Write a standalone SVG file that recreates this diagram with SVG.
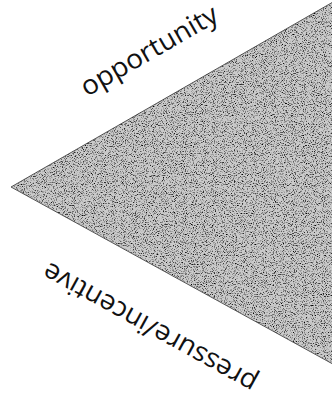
<svg xmlns="http://www.w3.org/2000/svg" width="332" height="401" viewBox="0 0 332 401">
  <style>
    .lbl { font-family: "Open Sans", "Liberation Sans", sans-serif; font-size: 27px; fill: #111; }
  </style>
  <defs>
    <filter id="stipple" x="0" y="0" width="332" height="401" filterUnits="userSpaceOnUse">
      <feTurbulence type="fractalNoise" baseFrequency="0.9" numOctaves="2" seed="7" result="noise"/>
      <feColorMatrix in="noise" type="matrix" values="0 0 0 0 0  0 0 0 0 0  0 0 0 0 0  -3 0 0 0 1.5" result="dots"/>
      <feComposite in="dots" in2="SourceGraphic" operator="in"/>
    </filter>
  </defs>
  <rect width="332" height="401" fill="#ffffff"/>
  <g id="triangle">
    <polygon points="11,187 340,-2 340,368" fill="#cacaca"/>
    <polygon points="11,187 340,-2 340,368" fill="#000" filter="url(#stipple)"/>
    <polyline points="340,-2 11,187 340,368" fill="none" stroke="#333" stroke-width="0.8"/>
  </g>
  <g id="label-opportunity">
    <text class="lbl" transform="translate(87,97) rotate(-30)" textLength="154" lengthAdjust="spacingAndGlyphs">opportunity</text>
  </g>
  <g id="label-pressure">
    <text class="lbl" transform="translate(259,378) rotate(209)" textLength="240" lengthAdjust="spacingAndGlyphs">pressure/incentive</text>
  </g>
  <g id="connectors"></g>
</svg>
